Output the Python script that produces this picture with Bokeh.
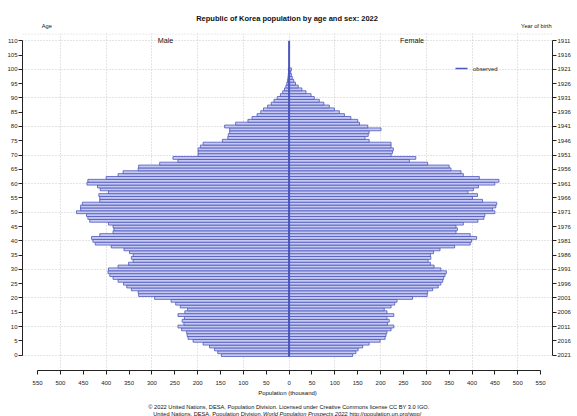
from bokeh.plotting import figure
from bokeh.layouts import column
from bokeh.models import (Range1d, LinearAxis, FixedTicker, Label, Span, Grid,
                          ColumnDataSource)
from bokeh.embed import file_html
from bokeh.resources import INLINE

# ---------------- data (thousands) ----------------
ages = list(range(0, 101))
male = [148, 156, 163, 174, 188, 210, 221, 223, 224, 235,
        243, 230, 234, 229, 243, 228, 222, 238, 248, 258,
        294, 329, 330, 345, 355, 362, 374, 385, 392, 396,
        395, 374, 351, 341, 345, 341, 349, 361, 389, 424,
        429, 432, 414, 385, 383, 385, 395, 436, 440, 443,
        465, 456, 456, 452, 414, 414, 416, 395, 413, 419,
        442, 440, 400, 374, 363, 330, 329, 283, 243, 254,
        199, 199, 199, 194, 188, 146, 134, 133, 130, 130,
        141, 117, 90, 81, 70, 62, 56, 47, 39, 33,
        26, 19, 14, 10, 7, 5, 3.5, 2.5, 1.8, 1.2,
        1.5]
female = [139, 146, 151, 161, 175, 199, 210, 212, 214, 223,
          229, 215, 219, 214, 229, 214, 208, 223, 231, 236,
          270, 302, 303, 314, 326, 332, 336, 338, 341, 344,
          332, 317, 309, 304, 310, 309, 316, 330, 362, 396,
          399, 410, 396, 365, 368, 365, 381, 413, 426, 428,
          450, 445, 452, 454, 423, 401, 412, 391, 403, 414,
          450, 459, 416, 381, 376, 354, 350, 303, 263, 277,
          223, 226, 228, 223, 223, 175, 166, 173, 175, 201,
          172, 154, 150, 135, 121, 110, 99, 88, 76, 66,
          55, 48, 37, 28, 20, 14, 10, 7, 5, 3.5,
          5]
pop_ticks = list(range(-550, 551, 50))
pop_tick_labels = {t: str(abs(t)) for t in pop_ticks}
age_ticks = list(range(0, 111, 5))
survey_year = 2022
birth_ticks = [survey_year - 1 - a for a in age_ticks]
grid_pop = [-500, -400, -300, -200, -100, 0, 100, 200, 300, 400, 500]
grid_age = list(range(0, 111, 10))

title_text = "Republic of Korea population by age and sex: 2022"
footer1 = ("\u00a9 2022 United Nations, DESA, Population Division. "
           "Licensed under Creative Commons license CC BY 3.0 IGO.")
footer2a = "United Nations, DESA, Population Division."
footer2b = "World Population Prospects 2022"
footer2c = ". http://population.un.org/wpp/"

# ---------------- styling ----------------
FONT = "Liberation Sans"
LINE = "#4b57be"
FILL = "#c6c9f1"
GRID = "#c8c8c8"
TXT = "#111111"
AX = "#222222"

W = 577
HEAD_H = 33          # page y of the plot frame top
FRAME_B = 372        # page y of the plot frame bottom
MAIN_H = 365         # main figure height (frame + bottom axis)
FOOT_H = 416 - HEAD_H - MAIN_H
FRAME_L, FRAME_R = 22, 552

# scale: 0 thousand at x=288.6, 0.4573 px per thousand
X0, XS = 288.6, 0.4573
# age 0 at y=356.5, 2.8745 px per year
Y0, YS = 356.5, 2.8745


def px_to_x(px):
    return (px - X0) / XS


def py_to_y(py):
    return (Y0 - py) / YS


def plain_fig(h, y_top):
    f = figure(width=W, height=h, output_backend="svg", toolbar_location=None,
               x_axis_type=None, y_axis_type=None,
               x_range=Range1d(0, W), y_range=Range1d(y_top + h, y_top),
               min_border_left=0, min_border_right=0, min_border_top=0,
               min_border_bottom=0)
    f.outline_line_color = None
    f.background_fill_color = "white"
    f.border_fill_color = "white"
    return f


def lab(f, text, x, y, size="6px", align="center", style="normal"):
    f.add_layout(Label(x=x, y=y, text=text, text_font=FONT,
                       text_font_size=size, text_align=align,
                       text_baseline="middle", text_font_style=style,
                       text_color=TXT))


# ---------------- header ----------------
head = plain_fig(HEAD_H, 0)
lab(head, title_text, 288, 17.5, size="7.5px", style="bold")
lab(head, "Age", 26.5, 25.5, size="5.7px")
lab(head, "Year of birth", 576, 25.5, size="5.7px", align="right")

# ---------------- main pyramid ----------------
p = figure(width=W, height=MAIN_H, output_backend="svg",
           toolbar_location=None, x_axis_type=None, y_axis_type=None,
           x_range=Range1d(px_to_x(FRAME_L), px_to_x(FRAME_R)),
           y_range=Range1d(py_to_y(FRAME_B), py_to_y(HEAD_H)),
           min_border_left=FRAME_L, min_border_right=W - FRAME_R,
           min_border_top=0, min_border_bottom=HEAD_H + MAIN_H - FRAME_B)
p.outline_line_color = None
p.background_fill_color = "white"
p.border_fill_color = "white"

p.add_layout(Grid(dimension=0, ticker=FixedTicker(ticks=grid_pop),
                  grid_line_color=GRID, grid_line_dash="1 2"), "center")
p.add_layout(Grid(dimension=1, ticker=FixedTicker(ticks=grid_age),
                  grid_line_color=GRID, grid_line_dash="1 2"), "center")
p.add_layout(Span(location=py_to_y(HEAD_H + 0.5), dimension="width",
                  line_color=GRID, line_dash="1 2", line_width=1))

src = ColumnDataSource(dict(age=ages, mleft=[-v for v in male],
                            fright=female))
p.hbar(y="age", left="mleft", right=0, height=1, source=src,
       fill_color=FILL, line_color=LINE, line_width=0.8)
p.hbar(y="age", left=0, right="fright", height=1, source=src,
       fill_color=FILL, line_color=LINE, line_width=0.8)
p.segment(x0=[0], y0=[ages[0] - 0.5], x1=[0], y1=[age_ticks[-1]],
          line_color=LINE, line_width=2)


def style_axis(ax):
    ax.major_tick_in = 0
    ax.major_tick_out = 4
    ax.minor_tick_in = 0
    ax.minor_tick_out = 0
    ax.axis_line_color = AX
    ax.major_tick_line_color = AX
    ax.major_label_text_font = FONT
    ax.major_label_text_font_size = "6px"
    ax.major_label_text_color = AX


yl = LinearAxis(ticker=FixedTicker(ticks=age_ticks), bounds=(0, 110))
style_axis(yl)
yl.major_label_standoff = 1
p.add_layout(yl, "left")

p.extra_y_ranges = {"birth": Range1d(start=survey_year - 1 - py_to_y(FRAME_B),
                                     end=survey_year - 1 - py_to_y(HEAD_H))}
yr = LinearAxis(y_range_name="birth", ticker=FixedTicker(ticks=birth_ticks),
                bounds=(min(birth_ticks), max(birth_ticks)))
style_axis(yr)
yr.major_label_standoff = 1
p.add_layout(yr, "right")

xb = LinearAxis(ticker=FixedTicker(ticks=pop_ticks), bounds=(-550, 550),
                major_label_overrides=pop_tick_labels,
                axis_label="Population (thousand)")
style_axis(xb)
xb.major_label_standoff = 6
xb.axis_label_standoff = 2
xb.axis_label_text_font = FONT
xb.axis_label_text_font_size = "6px"
xb.axis_label_text_font_style = "normal"
xb.axis_label_text_color = TXT
p.add_layout(xb, "below")

# sex labels and legend (inside the plot frame)
p.add_layout(Label(x=px_to_x(165), y=py_to_y(40.5), text="Male",
                   text_font=FONT, text_font_size="7.2px", text_align="center",
                   text_baseline="middle", text_color=TXT))
p.add_layout(Label(x=px_to_x(411.5), y=py_to_y(40.5), text="Female",
                   text_font=FONT, text_font_size="7.2px", text_align="center",
                   text_baseline="middle", text_color=TXT))
p.segment(x0=[px_to_x(455)], y0=[py_to_y(68.3)], x1=[px_to_x(467)],
          y1=[py_to_y(68.3)], line_color=LINE, line_width=1.5)
p.add_layout(Label(x=px_to_x(472.5), y=py_to_y(68.5), text="observed",
                   text_font=FONT, text_font_size="6px", text_align="left",
                   text_baseline="middle", text_color=TXT))

# ---------------- footer ----------------
foot = plain_fig(FOOT_H, HEAD_H + MAIN_H)
lab(foot, footer1, 290, 406, size="5.7px")

AW = {' ': 278, ',': 278, '.': 278, '/': 278, ':': 278, 'U': 722, 'N': 722,
      'D': 722, 'E': 667, 'S': 667, 'A': 667, 'P': 667, 'W': 944, 'i': 222,
      'l': 222, 't': 278, 'j': 222, 'f': 278, 'r': 333, 's': 500, 'c': 500,
      'v': 500, 'w': 722, 'm': 833, 'y': 500, 'k': 500}


def tw(s, size):
    return sum(AW.get(ch, 556) for ch in s) * size / 1000.0


fs = 5.7
wa = tw(footer2a, fs)
wsp = tw(" ", fs)
wb = tw(footer2b, fs)
wc = tw(footer2c, fs)
start = 289 - (wa + wsp + wb + wc + 4) / 2
cb = start + wa + wsp + 3 + wb / 2        # centre of the italic part
# left part right-aligned, italic part centred, right part left-aligned
lab(foot, footer2a, cb - wb / 2 - wsp - 3.0, 413, size="5.7px",
    align="right")
lab(foot, footer2b, cb, 413, size="5.7px", align="center", style="italic")
lab(foot, footer2c, cb + wb / 2 + 2.3, 413, size="5.7px", align="left")

layout = column(head, p, foot, spacing=0)
open("out.html", "w").write(file_html(layout, INLINE))
